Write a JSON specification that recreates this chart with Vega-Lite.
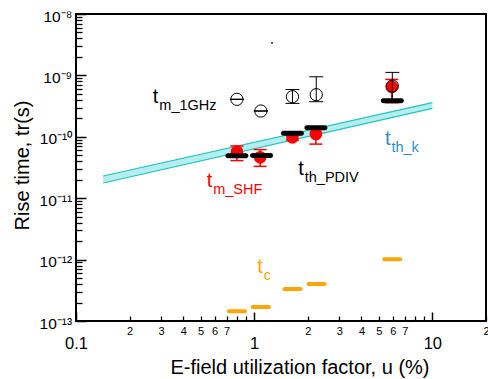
{
  "$schema": "https://vega.github.io/schema/vega-lite/v6.json",
  "width": 410,
  "height": 307,
  "autosize": {"type": "none"},
  "padding": {"left": 76, "top": 14, "right": 2, "bottom": 58},
  "background": "white",
  "config": {
    "view": {"stroke": "black", "strokeWidth": 2},
    "axis": {"grid": false, "labelFont": "Liberation Sans", "titleFont": "Liberation Sans", "domainColor": "black", "domainWidth": 2, "tickColor": "black", "tickWidth": 1.5, "labelColor": "black", "titleColor": "black", "titleFontWeight": "normal", "labelFlush": false, "labelOverlap": false},
    "text": {"font": "Liberation Sans"}
  },
  "datasets": {
    "band": [
      {"u": 0.142, "lo": 1.77e-11, "hi": 2.3e-11},
      {"u": 10, "lo": 2.9e-10, "hi": 3.6e-10}
    ],
    "tc": [
      {"u": 0.80, "t": 1.44e-13},
      {"u": 1.09, "t": 1.69e-13},
      {"u": 1.64, "t": 3.32e-13},
      {"u": 2.24, "t": 4.0e-13},
      {"u": 5.95, "t": 1.01e-12}
    ],
    "shf": [
      {"u": 0.80, "t": 5.7e-11, "lo": 4.1e-11, "hi": 7.1e-11},
      {"u": 1.08, "t": 4.63e-11, "lo": 3.3e-11, "hi": 6.2e-11},
      {"u": 1.64, "t": 9.8e-11, "lo": 8.8e-11, "hi": 1.1e-10},
      {"u": 2.22, "t": 1.11e-10, "lo": 7.6e-11, "hi": 1.35e-10},
      {"u": 5.92, "t": 6.5e-10, "lo": 3.6e-10, "hi": 8.6e-10}
    ],
    "ghz": [
      {"u": 0.80, "t": 4.08e-10, "lo": 4.05e-10, "hi": 4.11e-10},
      {"u": 1.09, "t": 2.63e-10, "lo": 2.61e-10, "hi": 2.65e-10},
      {"u": 1.64, "t": 4.5e-10, "lo": 3.5e-10, "hi": 5.9e-10},
      {"u": 2.23, "t": 4.85e-10, "lo": 3.73e-10, "hi": 9.5e-10},
      {"u": 5.96, "t": 6.7e-10, "lo": 4.0e-10, "hi": 1.12e-9}
    ],
    "pdiv": [
      {"u": 0.80, "t": 4.92e-11},
      {"u": 1.10, "t": 4.95e-11},
      {"u": 1.64, "t": 1.14e-10},
      {"u": 2.22, "t": 1.41e-10},
      {"u": 5.96, "t": 3.87e-10}
    ],
    "labels": [
      {"series": "ghz", "u": 0.270, "t": 3.55e-10, "sub": " m_1GHz"},
      {"series": "shf", "u": 0.5414, "t": 1.539e-11, "sub": "m_SHF"},
      {"series": "pdiv", "u": 1.768, "t": 2.39e-11, "sub": "th_PDIV"},
      {"series": "thk", "u": 5.42, "t": 7.43e-11, "sub": "th_k"},
      {"series": "tc", "u": 1.041, "t": 5.98e-13, "sub": "c"}
    ],
    "dot": [
      {"u": 1.259, "t": 3.37e-9}
    ]
  },
  "resolve": {"axis": {"x": "independent", "y": "independent"}},
  "encoding": {
    "x": {"field": "u", "type": "quantitative", "scale": {"type": "log", "domain": [0.1, 20], "nice": false}, "axis": null},
    "y": {"field": "t", "type": "quantitative", "scale": {"type": "log", "domain": [1e-13, 1e-8], "nice": false}, "axis": null}
  },
  "layer": [
    {
      "data": {"name": "band"},
      "mark": {"type": "area", "color": "#b5eeee", "opacity": 1},
      "encoding": {
        "x": {"field": "u", "type": "quantitative", "scale": {"type": "log", "domain": [0.1, 20], "nice": false},
          "axis": {"orient": "bottom", "offset": -9, "domain": false, "title": "E-field utilization factor, u (%)", "titleFontSize": 20, "titleX": 223.5, "titleY": 61, "titleAlign": "center", "titleBaseline": "alphabetic",
            "values": [0.1, 1, 10], "tickSize": 9, "tickWidth": 1.5, "labelPadding": 14.5, "labelFontSize": 16.5,
            "labelExpr": "datum.value == 0.1 ? '0.1' : datum.value == 1 ? '1' : '10'", "labelBaseline": "top", "labelAlign": "center"}},
        "y": {"field": "hi", "type": "quantitative", "scale": {"type": "log", "domain": [1e-13, 1e-8], "nice": false},
          "axis": {"orient": "left", "offset": -10, "domain": false, "title": "Rise time, tr(s)", "titleFontSize": 20, "titleX": -64, "titleY": 151, "titleAlign": "center", "titleBaseline": "middle", "titleAngle": -90,
            "values": [1e-13, 1e-12, 1e-11, 1e-10, 1e-9, 1e-8], "tickSize": 10, "tickWidth": 1.5, "labelPadding": 4.3, "labelFontSize": 15.5,
            "labelExpr": "datum.value == 1e-8 ? '10⁻⁸' : datum.value == 1e-9 ? '10⁻⁹' : datum.value == 1e-10 ? '10⁻¹⁰' : datum.value == 1e-11 ? '10⁻¹¹' : datum.value == 1e-12 ? '10⁻¹²' : '10⁻¹³'",
            "labelBaseline": "middle", "labelAlign": "right", "labelOffset": 2}},
        "y2": {"field": "lo"}
      }
    },
    {
      "data": {"name": "band"},
      "mark": {"type": "line", "color": "#1fc3c3", "strokeWidth": 1.2},
      "encoding": {
        "x": {"field": "u", "type": "quantitative", "scale": {"type": "log", "domain": [0.1, 20], "nice": false},
          "axis": {"orient": "bottom", "offset": -5, "title": null, "domain": false,
            "values": [0.2, 0.3, 0.4, 0.5, 0.6, 0.7, 0.8, 0.9, 2, 3, 4, 5, 6, 7, 8, 9, 20], "tickSize": 5, "tickWidth": 1.3, "labelPadding": 4.2, "labelFontSize": 11,
            "labelExpr": "round(datum.value / pow(10, floor(log(datum.value)/LN10 + 1e-9))) <= 7 ? '' + round(datum.value / pow(10, floor(log(datum.value)/LN10 + 1e-9))) : ''", "labelBaseline": "top", "labelAlign": "center"}},
        "y": {"field": "hi", "type": "quantitative", "scale": {"type": "log", "domain": [1e-13, 1e-8], "nice": false},
          "axis": {"orient": "left", "offset": -6, "title": null, "domain": false, "labels": false,
            "values": [2e-13, 3e-13, 4e-13, 5e-13, 6e-13, 7e-13, 8e-13, 9e-13, 2e-12, 3e-12, 4e-12, 5e-12, 6e-12, 7e-12, 8e-12, 9e-12, 2e-11, 3e-11, 4e-11, 5e-11, 6e-11, 7e-11, 8e-11, 9e-11, 2e-10, 3e-10, 4e-10, 5e-10, 6e-10, 7e-10, 8e-10, 9e-10, 2e-9, 3e-9, 4e-9, 5e-9, 6e-9, 7e-9, 8e-9, 9e-9], "tickSize": 6, "tickWidth": 1.3}}
      }
    },
    {
      "data": {"name": "band"},
      "mark": {"type": "line", "color": "#1fc3c3", "strokeWidth": 1.2},
      "encoding": {"y": {"field": "lo", "type": "quantitative", "axis": null}}
    },
    {
      "data": {"name": "tc"},
      "mark": {"type": "tick", "orient": "horizontal", "size": 20, "thickness": 4, "color": "#ffa500", "cornerRadius": 2, "opacity": 1},
      "encoding": {}
    },
    {
      "data": {"name": "shf"},
      "mark": {"type": "rule", "color": "red", "strokeWidth": 1.5},
      "encoding": {"y": {"field": "lo", "type": "quantitative", "axis": null}, "y2": {"field": "hi"}}
    },
    {
      "data": {"name": "shf"},
      "mark": {"type": "tick", "orient": "horizontal", "size": 13, "thickness": 1.5, "color": "red", "opacity": 1},
      "encoding": {"y": {"field": "lo", "type": "quantitative", "axis": null}}
    },
    {
      "data": {"name": "shf"},
      "mark": {"type": "tick", "orient": "horizontal", "size": 13, "thickness": 1.5, "color": "red", "opacity": 1},
      "encoding": {"y": {"field": "hi", "type": "quantitative", "axis": null}}
    },
    {
      "data": {"name": "shf"},
      "mark": {"type": "point", "shape": "circle", "filled": true, "color": "red", "size": 160, "opacity": 1},
      "encoding": {}
    },
    {
      "data": {"name": "ghz"},
      "mark": {"type": "rule", "color": "black", "strokeWidth": 1},
      "encoding": {"y": {"field": "lo", "type": "quantitative", "axis": null}, "y2": {"field": "hi"}}
    },
    {
      "data": {"name": "ghz"},
      "mark": {"type": "tick", "orient": "horizontal", "size": 14, "thickness": 1, "color": "black", "opacity": 1},
      "encoding": {"y": {"field": "lo", "type": "quantitative", "axis": null}}
    },
    {
      "data": {"name": "ghz"},
      "mark": {"type": "tick", "orient": "horizontal", "size": 14, "thickness": 1, "color": "black", "opacity": 1},
      "encoding": {"y": {"field": "hi", "type": "quantitative", "axis": null}}
    },
    {
      "data": {"name": "ghz"},
      "mark": {"type": "point", "shape": "circle", "filled": false, "color": "black", "strokeWidth": 1, "size": 150, "opacity": 1},
      "encoding": {}
    },
    {
      "data": {"name": "pdiv"},
      "mark": {"type": "tick", "orient": "horizontal", "size": 23, "thickness": 5, "color": "black", "cornerRadius": 2.5, "opacity": 1},
      "encoding": {}
    },
    {
      "data": {"name": "labels"},
      "mark": {"type": "text", "fontSize": 20, "align": "left", "baseline": "alphabetic"},
      "encoding": {
        "text": {"value": "t"},
        "color": {"field": "series", "type": "nominal", "scale": {"domain": ["ghz", "shf", "pdiv", "thk", "tc"], "range": ["black", "red", "black", "#2a8fd0", "#ffa500"]}, "legend": null}
      }
    },
    {
      "data": {"name": "labels"},
      "mark": {"type": "text", "fontSize": 14.5, "align": "left", "baseline": "alphabetic", "dx": 6.5, "dy": 7},
      "encoding": {
        "text": {"field": "sub"},
        "color": {"field": "series", "type": "nominal", "scale": {"domain": ["ghz", "shf", "pdiv", "thk", "tc"], "range": ["black", "red", "black", "#2a8fd0", "#ffa500"]}, "legend": null}
      }
    },
    {
      "data": {"name": "dot"},
      "mark": {"type": "square", "color": "black", "size": 3, "opacity": 1},
      "encoding": {}
    }
  ]
}
